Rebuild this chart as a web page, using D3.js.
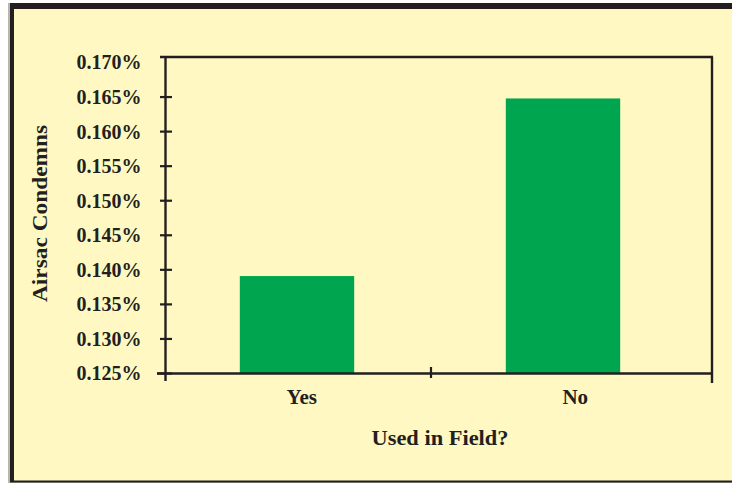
<!DOCTYPE html>
<html>
<head>
<meta charset="utf-8">
<script src="https://cdn.jsdelivr.net/npm/d3@7"></script>
<style>
  html, body { margin: 0; padding: 0; background: #ffffff; }
  svg { display: block; }
  text { font-family: "Liberation Serif", "Times New Roman", serif; font-weight: bold; fill: #231f20; }
</style>
</head>
<body>
<script>
// ---- data (values in percent) ----
const categories = ["Yes", "No"];
const values = [0.1391, 0.1648];
const yTicks = [0.125, 0.130, 0.135, 0.140, 0.145, 0.150, 0.155, 0.160, 0.165, 0.170];
const xTitle = "Used in Field?";
const yTitle = "Airsac Condemns";

(function () {
const W = 732, H = 483;
const dark = "#231f20";
const svg = d3.select("body").append("svg").attr("width", W).attr("height", H);

// outer panel
svg.append("rect").attr("x", 8).attr("y", 3).attr("width", W).attr("height", 480).attr("fill", "#b9b6ad");
svg.append("rect").attr("x", 10).attr("y", 3).attr("width", W).attr("height", 479.5).attr("fill", dark);
svg.append("rect").attr("x", 14).attr("y", 9).attr("width", W).attr("height", 471.5).attr("fill", "#fff8c2");

// scales
const y = d3.scaleLinear().domain([0.125, 0.170]).range([373.5, 62.5]);
const xBars = d3.scaleBand().domain(categories).range([164, 696]).paddingInner(0.57).paddingOuter(0.285);
const xLab = d3.scaleBand().domain(categories).range([165, 712]);

const pLeft = 165.5, pRight = 712, pTop = 57, pBottom = 373.5;

// bars
svg.append("g").selectAll("rect").data(categories).join("rect")
  .attr("x", d => xBars(d))
  .attr("width", xBars.bandwidth())
  .attr("y", (d, i) => y(values[i]))
  .attr("height", (d, i) => y(0.125) - y(values[i]))
  .attr("fill", "#00a64f");

// y axis labels via d3 axis
const yAxis = d3.axisLeft(y).tickValues(yTicks).tickFormat(d => d.toFixed(3) + "%").tickSize(0).tickPadding(24);
const gy = svg.append("g").attr("transform", `translate(${pLeft},0)`).call(yAxis);
gy.select(".domain").remove();
gy.selectAll("text").style("font-size", "20px").style("font-family", "Liberation Serif, serif").style("font-weight", "bold").attr("fill", dark);

// tick marks (crossing), skip top value
svg.append("g").selectAll("line").data(yTicks.filter(t => t < 0.170)).join("line")
  .attr("x1", d => d === 0.125 ? 157 : 160).attr("x2", 172)
  .attr("y1", d => y(d)).attr("y2", d => y(d))
  .attr("stroke", dark).attr("stroke-width", 2.2);

// frame
const fr = svg.append("g").attr("stroke", dark).attr("fill", "none");
fr.append("line").attr("x1", pLeft).attr("x2", pLeft).attr("y1", pTop).attr("y2", 381).attr("stroke-width", 2.4);
fr.append("line").attr("x1", 160).attr("x2", pRight + 1).attr("y1", pTop).attr("y2", pTop).attr("stroke-width", 2.4);
fr.append("line").attr("x1", pRight).attr("x2", pRight).attr("y1", pTop).attr("y2", 383).attr("stroke-width", 2.4);
fr.append("line").attr("x1", 157).attr("x2", pRight).attr("y1", pBottom).attr("y2", pBottom).attr("stroke-width", 2.4);
// category separator tick
fr.append("line").attr("x1", 431).attr("x2", 431)
  .attr("y1", 367).attr("y2", 378).attr("stroke-width", 2.2);

// category labels
svg.append("g").selectAll("text").data(categories).join("text")
  .attr("x", d => xLab(d) + xLab.bandwidth() / 2)
  .attr("y", 404)
  .attr("text-anchor", "middle")
  .style("font-size", "21px")
  .text(d => d);

// axis titles
svg.append("text").attr("x", 440).attr("y", 445).attr("text-anchor", "middle")
  .style("font-size", "22px").attr("textLength", 137).attr("lengthAdjust", "spacingAndGlyphs").text(xTitle);
svg.append("text").attr("transform", "translate(47,213.5) rotate(-90)").attr("text-anchor", "middle")
  .style("font-size", "22px").attr("textLength", 177).attr("lengthAdjust", "spacingAndGlyphs").text(yTitle);
})();
</script>
</body>
</html>
